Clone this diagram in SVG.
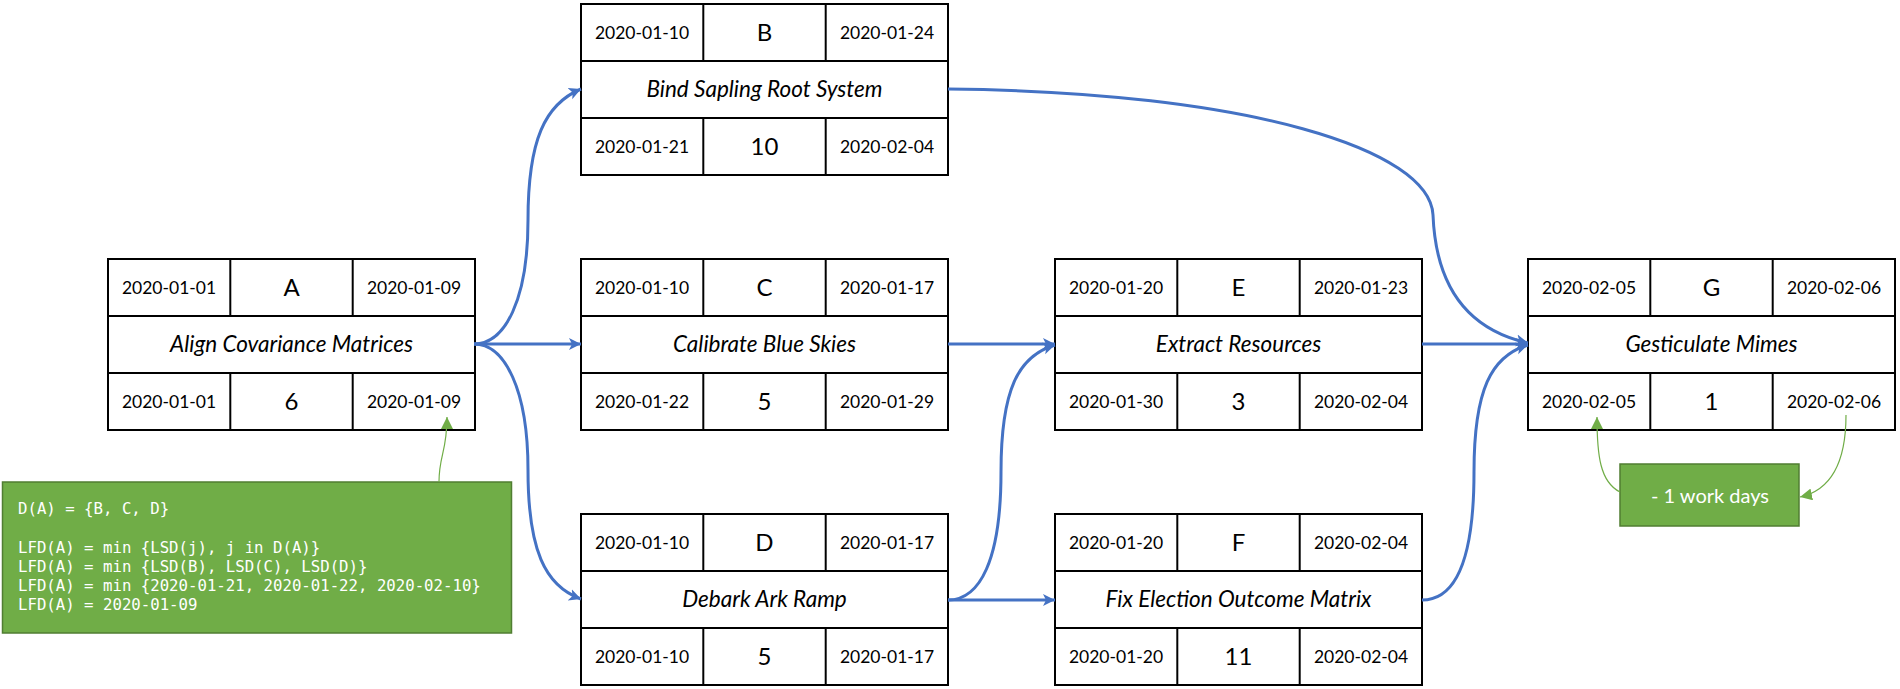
<svg xmlns="http://www.w3.org/2000/svg" width="1900" height="689" viewBox="0 0 1900 689">
<style>
.box{fill:#fff;stroke:#000;stroke-width:2}
.ln{stroke:#000;stroke-width:2}
.dt{font-family:Lato,"Liberation Sans",sans-serif;font-size:17.5px;fill:#000;text-anchor:middle}
.id{font-family:Lato,"Liberation Sans",sans-serif;font-size:24px;fill:#000;text-anchor:middle}
.nm{font-family:Lato,"Liberation Sans",sans-serif;font-size:22.5px;font-style:italic;fill:#000;text-anchor:middle}
.con{fill:none;stroke:#4472C4;stroke-width:3;marker-end:url(#ab)}
.gcon{fill:none;stroke:#70AD47;stroke-width:1.2;marker-end:url(#ag)}
.note{fill:#70AD47;stroke:#507E32;stroke-width:1.5}
.mono{font-family:"DejaVu Sans Mono","Liberation Mono",monospace;font-size:15.7px;fill:#fff}
.wt{font-family:Lato,"Liberation Sans",sans-serif;font-size:20px;fill:#fff;text-anchor:middle}
</style>
<defs>
<marker id="ab" markerUnits="userSpaceOnUse" markerWidth="14" markerHeight="14" refX="12" refY="6" orient="auto" viewBox="0 0 14 12">
<path d="M0,0 L12,6 L0,12 L3,6 z" fill="#4472C4"/>
</marker>
<marker id="ag" markerUnits="userSpaceOnUse" markerWidth="12" markerHeight="12" refX="10" refY="5" orient="auto" viewBox="0 0 10 10">
<path d="M0,0 L10,5 L0,10 z" fill="#70AD47"/>
</marker>
<g id="grid">
<rect class="box" x="0" y="0" width="367" height="171"/>
<line class="ln" x1="0" y1="57" x2="367" y2="57"/>
<line class="ln" x1="0" y1="114" x2="367" y2="114"/>
<line class="ln" x1="122.3" y1="0" x2="122.3" y2="57"/>
<line class="ln" x1="244.7" y1="0" x2="244.7" y2="57"/>
<line class="ln" x1="122.3" y1="114" x2="122.3" y2="171"/>
<line class="ln" x1="244.7" y1="114" x2="244.7" y2="171"/>
</g>
</defs>
<g id="A" transform="translate(108,259)">
<use href="#grid"/>
<text class="dt" x="61" y="34.5">2020-01-01</text>
<text class="id" x="183.5" y="37">A</text>
<text class="dt" x="306" y="34.5">2020-01-09</text>
<text class="nm" x="183.5" y="92.5">Align Covariance Matrices</text>
<text class="dt" x="61" y="148.5">2020-01-01</text>
<text class="id" x="183.5" y="151">6</text>
<text class="dt" x="306" y="148.5">2020-01-09</text>
</g>
<g id="B" transform="translate(581,4)">
<use href="#grid"/>
<text class="dt" x="61" y="34.5">2020-01-10</text>
<text class="id" x="183.5" y="37">B</text>
<text class="dt" x="306" y="34.5">2020-01-24</text>
<text class="nm" x="183.5" y="92.5">Bind Sapling Root System</text>
<text class="dt" x="61" y="148.5">2020-01-21</text>
<text class="id" x="183.5" y="151">10</text>
<text class="dt" x="306" y="148.5">2020-02-04</text>
</g>
<g id="C" transform="translate(581,259)">
<use href="#grid"/>
<text class="dt" x="61" y="34.5">2020-01-10</text>
<text class="id" x="183.5" y="37">C</text>
<text class="dt" x="306" y="34.5">2020-01-17</text>
<text class="nm" x="183.5" y="92.5">Calibrate Blue Skies</text>
<text class="dt" x="61" y="148.5">2020-01-22</text>
<text class="id" x="183.5" y="151">5</text>
<text class="dt" x="306" y="148.5">2020-01-29</text>
</g>
<g id="D" transform="translate(581,514)">
<use href="#grid"/>
<text class="dt" x="61" y="34.5">2020-01-10</text>
<text class="id" x="183.5" y="37">D</text>
<text class="dt" x="306" y="34.5">2020-01-17</text>
<text class="nm" x="183.5" y="92.5">Debark Ark Ramp</text>
<text class="dt" x="61" y="148.5">2020-01-10</text>
<text class="id" x="183.5" y="151">5</text>
<text class="dt" x="306" y="148.5">2020-01-17</text>
</g>
<g id="E" transform="translate(1055,259)">
<use href="#grid"/>
<text class="dt" x="61" y="34.5">2020-01-20</text>
<text class="id" x="183.5" y="37">E</text>
<text class="dt" x="306" y="34.5">2020-01-23</text>
<text class="nm" x="183.5" y="92.5">Extract Resources</text>
<text class="dt" x="61" y="148.5">2020-01-30</text>
<text class="id" x="183.5" y="151">3</text>
<text class="dt" x="306" y="148.5">2020-02-04</text>
</g>
<g id="F" transform="translate(1055,514)">
<use href="#grid"/>
<text class="dt" x="61" y="34.5">2020-01-20</text>
<text class="id" x="183.5" y="37">F</text>
<text class="dt" x="306" y="34.5">2020-02-04</text>
<text class="nm" x="183.5" y="92.5">Fix Election Outcome Matrix</text>
<text class="dt" x="61" y="148.5">2020-01-20</text>
<text class="id" x="183.5" y="151">11</text>
<text class="dt" x="306" y="148.5">2020-02-04</text>
</g>
<g id="G" transform="translate(1528,259)">
<use href="#grid"/>
<text class="dt" x="61" y="34.5">2020-02-05</text>
<text class="id" x="183.5" y="37">G</text>
<text class="dt" x="306" y="34.5">2020-02-06</text>
<text class="nm" x="183.5" y="92.5">Gesticulate Mimes</text>
<text class="dt" x="61" y="148.5">2020-02-05</text>
<text class="id" x="183.5" y="151">1</text>
<text class="dt" x="306" y="148.5">2020-02-06</text>
</g>
<g id="note">
<rect class="note" x="2.5" y="482" width="509" height="151"/>
<text class="mono" x="18" y="514">D(A) = {B, C, D}</text>
<text class="mono" x="18" y="553">LFD(A) = min {LSD(j), j in D(A)}</text>
<text class="mono" x="18" y="572">LFD(A) = min {LSD(B), LSD(C), LSD(D)}</text>
<text class="mono" x="18" y="591">LFD(A) = min {2020-01-21, 2020-01-22, 2020-02-10}</text>
<text class="mono" x="18" y="610">LFD(A) = 2020-01-09</text>
</g>
<g id="workdays">
<rect class="note" x="1620" y="464" width="179" height="62"/>
<text class="wt" x="1710" y="503">- 1 work days</text>
</g>
<g id="connectors">
<path class="con" d="M474,344 C505,344 528,300 528,220 C528,140 545,104 581,89"/>
<path class="con" d="M474,344 L581,344"/>
<path class="con" d="M474,344 C505,344 528,390 528,470 C528,550 545,586 581,599"/>
<path class="con" d="M948,344 L1055,344"/>
<path class="con" d="M948,600 C980,600 1001,560 1001,472 C1001,390 1018,356 1055,345"/>
<path class="con" d="M948,600 L1055,600"/>
<path class="con" d="M1422,344 L1528,344"/>
<path class="con" d="M1422,600 C1455,600 1474,560 1474,472 C1474,390 1491,356 1528,345"/>
<path class="con" d="M948,89 C1250,92 1430,150 1433,215 C1436,290 1470,330 1528,343"/>
<path class="gcon" d="M439,482 C439,455 447,452 447,417"/>
<path class="gcon" d="M1620,492 C1600,482 1597,455 1597,417"/>
<path class="gcon" d="M1846,415 C1846,460 1832,490 1800,497"/>
</g>
</svg>
